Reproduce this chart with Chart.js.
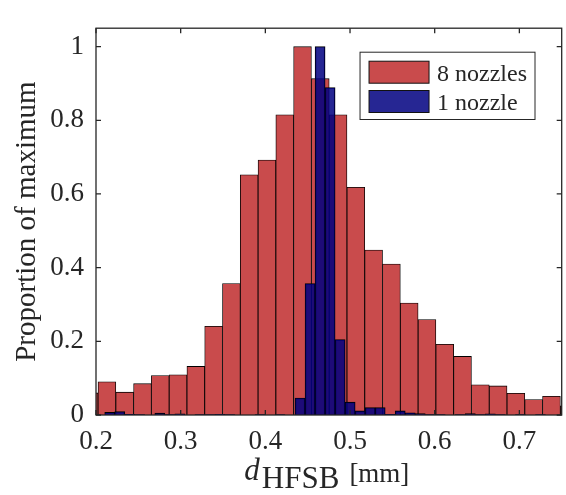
<!DOCTYPE html>
<html>
<head>
<meta charset="utf-8">
<title>HFSB diameter histogram</title>
<script src="https://cdn.jsdelivr.net/npm/chart.js@4.4.0/dist/chart.umd.min.js"></script>
<style>
  html, body { margin: 0; padding: 0; background: #fff; }
  #wrap { width: 566px; height: 495px; position: relative; }
</style>
</head>
<body>
<div id="wrap"><canvas id="histChart"></canvas></div>
<script>
// bin centres [mm] and bar heights (proportion of maximum)
const redCenters = [0.1919, 0.2129, 0.2339, 0.2549, 0.2759, 0.2969, 0.3179, 0.3389, 0.3599, 0.3809,
    0.4019, 0.4229, 0.4439, 0.4649, 0.4859, 0.5069, 0.5279, 0.5489, 0.5699, 0.5909,
    0.6119, 0.6329, 0.6539, 0.6749, 0.6959, 0.7169, 0.7379, 0.7589];
const redValues = [0.06, 0.09, 0.062, 0.085, 0.107, 0.109, 0.132, 0.241, 0.357, 0.652,
    0.692, 0.815, 1.0, 0.913, 0.815, 0.618, 0.448, 0.41, 0.304, 0.259,
    0.192, 0.159, 0.082, 0.079, 0.059, 0.042, 0.051, 0.025];

const blueCenters = [0.21622, 0.22805, 0.23988, 0.25171, 0.26354, 0.27537, 0.28720, 0.29903, 0.31086, 0.32269,
    0.33452, 0.34635, 0.35818, 0.37001, 0.38184, 0.39367, 0.40550, 0.41733, 0.42916, 0.44099,
    0.45282, 0.46465, 0.47648, 0.48831, 0.50014, 0.51197, 0.52380, 0.53563, 0.54746, 0.55929,
    0.57112, 0.58295, 0.59478, 0.60661, 0.61844, 0.63027, 0.64210, 0.65393, 0.66576, 0.67759,
    0.68942, 0.70125, 0.71308, 0.72491, 0.73674, 0.74857];
const blueValues = [0.007, 0.009, 0.002, 0.001, 0, 0.005, 0.001, 0.003, 0, 0.001,
    0.001, 0.002, 0.001, 0, 0, 0.001, 0, 0.001, 0, 0.046,
    0.357, 1.0, 0.889, 0.205, 0.035, 0.011, 0.02, 0.02, 0.002, 0.011,
    0.006, 0.004, 0.001, 0.001, 0, 0.001, 0.004, 0.001, 0.003, 0.001,
    0, 0.001, 0, 0.001, 0, 0];

const seriesLabels = ['8 nozzles', '1 nozzle'];
const seriesColors = ['rgb(201, 75, 76)', 'rgba(0, 0, 128, 0.85)'];
const xTicks = [0.2, 0.3, 0.4, 0.5, 0.6, 0.7];
const yTicks = [0, 0.2, 0.4, 0.6, 0.8, 1];

const FONT = "'Liberation Serif', 'Times New Roman', serif";
const INK = '#262626';

Chart.defaults.font.family = FONT;
Chart.defaults.color = INK;

function toPoints(centers, values) {
    return centers.map((c, i) => ({ x: c, y: values[i] }));
}

// MATLAB-like box with inward ticks on all four sides
const boxFrame = {
    id: 'boxFrame',
    afterDraw(chart) {
        const ctx = chart.ctx;
        const a = chart.chartArea;
        const xs = chart.scales.x, ys = chart.scales.y;
        const len = 5;
        ctx.save();
        ctx.strokeStyle = INK;
        ctx.lineWidth = 1.3;
        ctx.strokeRect(a.left, a.top, a.right - a.left, a.bottom - a.top);
        ctx.beginPath();
        xTicks.forEach(v => {
            const px = xs.getPixelForValue(v);
            ctx.moveTo(px, a.bottom); ctx.lineTo(px, a.bottom - len);
            ctx.moveTo(px, a.top); ctx.lineTo(px, a.top + len);
        });
        yTicks.forEach(v => {
            const py = ys.getPixelForValue(v);
            ctx.moveTo(a.left, py); ctx.lineTo(a.left + len, py);
            ctx.moveTo(a.right, py); ctx.lineTo(a.right - len, py);
        });
        ctx.stroke();
        ctx.restore();
    }
};

// boxed legend in the upper right of the axes
const boxLegend = {
    id: 'boxLegend',
    afterDraw(chart) {
        const ctx = chart.ctx;
        const a = chart.chartArea;
        const sets = chart.data.datasets;
        ctx.save();
        ctx.font = '24px ' + FONT;
        const textW = Math.max(...sets.map(d => ctx.measureText(d.label).width));
        const pad = 9, sw = 60, sh = 22, rowH = 29.3;
        const w = pad + sw + 8 + textW + 8;
        const h = pad + rowH + sh + 7;
        const x0 = a.right - 26.7 - w;
        const y0 = a.top + 24;
        ctx.fillStyle = '#fff';
        ctx.fillRect(x0, y0, w, h);
        ctx.strokeStyle = INK;
        ctx.lineWidth = 1;
        ctx.strokeRect(x0, y0, w, h);
        sets.forEach((d, i) => {
            const sy = y0 + pad + i * rowH;
            ctx.fillStyle = d.backgroundColor;
            ctx.fillRect(x0 + pad, sy, sw, sh);
            ctx.strokeStyle = '#111';
            ctx.strokeRect(x0 + pad, sy, sw, sh);
            ctx.fillStyle = INK;
            ctx.textBaseline = 'alphabetic';
            ctx.fillText(d.label, x0 + pad + sw + 8, sy + 19.5);
        });
        ctx.restore();
    }
};

// x label: d_HFSB [mm]
const xLabel = {
    id: 'xLabel',
    afterDraw(chart) {
        const ctx = chart.ctx;
        const a = chart.chartArea;
        const parts = [
            { t: 'd', font: 'italic 31px ' + FONT, dy: 0, gap: 2 },
            { t: 'HFSB', font: '31px ' + FONT, dy: 8, gap: 10 },
            { t: '[mm]', font: '27px ' + FONT, dy: 2, gap: 0 }
        ];
        ctx.save();
        let total = 0;
        parts.forEach(p => {
            ctx.font = p.font;
            p.w = ctx.measureText(p.t).width;
            total += p.w + p.gap;
        });
        let x = (a.left + a.right) / 2 - total / 2 - 2;
        const base = a.bottom + 65;
        ctx.fillStyle = INK;
        ctx.textBaseline = 'alphabetic';
        parts.forEach(p => {
            ctx.font = p.font;
            ctx.fillText(p.t, x, base + p.dy);
            x += p.w + p.gap;
        });
        ctx.restore();
    }
};

const xScaleBase = {
    type: 'linear',
    min: 0.2,
    max: 0.75,
    offset: false,
    grid: { display: false, drawTicks: false },
    border: { display: false },
    afterBuildTicks: scale => { scale.ticks = xTicks.map(v => ({ value: v })); }
};

const barStyle = {
    borderColor: '#000',
    borderWidth: 0.85,
    categoryPercentage: 1,
    barPercentage: 1,
    grouped: false
};

new Chart(document.getElementById('histChart'), {
    type: 'bar',
    data: {
        datasets: [
            Object.assign({
                label: seriesLabels[0],
                data: toPoints(redCenters, redValues),
                xAxisID: 'x',
                order: 2,
                backgroundColor: seriesColors[0]
            }, barStyle),
            Object.assign({
                label: seriesLabels[1],
                data: toPoints(blueCenters, blueValues),
                xAxisID: 'x2',
                order: 1,
                backgroundColor: seriesColors[1]
            }, barStyle)
        ]
    },
    options: {
        responsive: true,
        maintainAspectRatio: false,
        animation: false,
        layout: { padding: { left: 0, right: 4.3, top: 9, bottom: 0 } },
        plugins: {
            legend: { display: false },
            tooltip: { enabled: false }
        },
        scales: {
            x: Object.assign({}, xScaleBase, {
                position: 'bottom',
                ticks: {
                    font: { size: 27 },
                    padding: 11,
                    maxRotation: 0,
                    callback: v => v.toFixed(1)
                },
                afterFit: scale => { scale.height = 80; }
            }),
            x2: Object.assign({}, xScaleBase, { display: false }),
            y: {
                type: 'linear',
                min: 0,
                max: 1.05,
                position: 'left',
                grid: { display: false, drawTicks: false },
                border: { display: false },
                ticks: { font: { size: 27 }, padding: 12, callback: v => String(v) },
                afterBuildTicks: scale => { scale.ticks = yTicks.map(v => ({ value: v })); },
                title: {
                    display: true,
                    text: 'Proportion of maximum',
                    font: { size: 29 },
                    padding: { top: 10, bottom: 0 }
                },
                afterFit: scale => { scale.width = 96; }
            }
        }
    },
    plugins: [boxFrame, boxLegend, xLabel]
});
</script>
</body>
</html>
